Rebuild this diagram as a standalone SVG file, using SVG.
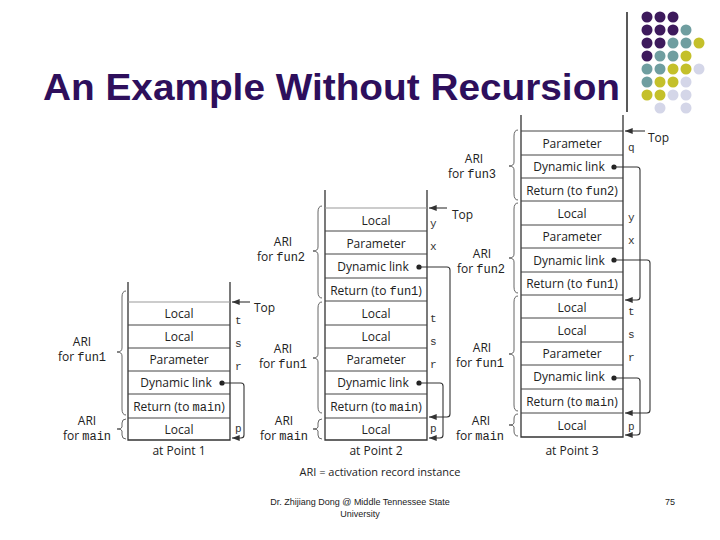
<svg xmlns="http://www.w3.org/2000/svg" width="720" height="540" viewBox="0 0 720 540">
<defs>
<marker id="ah" viewBox="0 0 10 10" refX="10" refY="5" markerWidth="7" markerHeight="7" orient="auto"><path d="M0,1 L10,5 L0,9 Z" fill="#333"/></marker>
<style>
text{font-family:"Open Sans","DejaVu Sans",sans-serif;fill:#222}
.c{font-size:12px;text-anchor:middle}
.m{font-family:"Liberation Mono",monospace}
.v{font-family:"Liberation Mono",monospace;font-size:11px;fill:#333}
.st{fill:none;stroke:#333;stroke-width:1.3}
.sep{stroke:#444;stroke-width:1}
.br{fill:none;stroke:#555;stroke-width:0.9}
.ln{fill:none;stroke:#333;stroke-width:1.1}
.p{fill:#3d1a5c}.t{fill:#6f9ea0}.y{fill:#c4c02a}.l{fill:#d4d6e8}
</style>
</defs>
<rect width="720" height="540" fill="#fff"/>
<g id="title"><text x="43" y="100" textLength="577" lengthAdjust="spacingAndGlyphs" style="font-family:'Liberation Sans',Arial,sans-serif;font-size:36px;font-weight:bold;fill:#2e0f5c">An Example Without Recursion</text>
<line x1="627" y1="12" x2="627" y2="112" stroke="#222" stroke-width="1.5"/></g>
<g id="dots">
<circle class="p" cx="647" cy="17" r="5.5"/><circle class="p" cx="660" cy="17" r="5.5"/><circle class="p" cx="673" cy="17" r="5.5"/>
<circle class="p" cx="647" cy="30" r="5.5"/><circle class="p" cx="660" cy="30" r="5.5"/><circle class="p" cx="673" cy="30" r="5.5"/><circle class="t" cx="686" cy="30" r="5.5"/>
<circle class="p" cx="647" cy="43" r="5.5"/><circle class="p" cx="660" cy="43" r="5.5"/><circle class="t" cx="673" cy="43" r="5.5"/><circle class="t" cx="686" cy="43" r="5.5"/><circle class="y" cx="699" cy="43" r="5.5"/>
<circle class="p" cx="647" cy="56" r="5.5"/><circle class="t" cx="660" cy="56" r="5.5"/><circle class="t" cx="673" cy="56" r="5.5"/><circle class="y" cx="686" cy="56" r="5.5"/>
<circle class="t" cx="647" cy="69" r="5.5"/><circle class="t" cx="660" cy="69" r="5.5"/><circle class="y" cx="673" cy="69" r="5.5"/><circle class="y" cx="686" cy="69" r="5.5"/><circle class="l" cx="699" cy="69" r="5.5"/>
<circle class="t" cx="647" cy="82" r="5.5"/><circle class="y" cx="660" cy="82" r="5.5"/><circle class="y" cx="673" cy="82" r="5.5"/><circle class="l" cx="686" cy="82" r="5.5"/>
<circle class="y" cx="647" cy="95" r="5.5"/><circle class="y" cx="660" cy="95" r="5.5"/><circle class="l" cx="673" cy="95" r="5.5"/><circle class="l" cx="686" cy="95" r="5.5"/>
<circle class="l" cx="660" cy="108" r="5.5"/><circle class="l" cx="686" cy="108" r="5.5"/>
</g>
<g id="stack1">
<path class="st" d="M128,282 V440 H230 V282"/>
<line x1="128" y1="302" x2="230" y2="302" stroke="#999"/>
<line class="sep" x1="128" y1="325" x2="230" y2="325"/><line class="sep" x1="128" y1="348" x2="230" y2="348" stroke="#999"/><line class="sep" x1="128" y1="371" x2="230" y2="371"/><line class="sep" x1="128" y1="394" x2="230" y2="394" stroke="#aaa"/><line class="sep" x1="128" y1="418" x2="230" y2="418"/>
<text class="c" x="179" y="318">Local</text><text class="c" x="179" y="341">Local</text><text class="c" x="179" y="364">Parameter</text><text class="c" x="176" y="387">Dynamic link</text><text class="c" x="179" y="411">Return (to <tspan class="m">main</tspan>)</text><text class="c" x="179" y="434">Local</text>
<text class="v" x="235" y="324">t</text><text class="v" x="235" y="347">s</text><text class="v" x="235" y="370">r</text><text class="v" x="235" y="432">p</text>
<path class="br" d="M126,291 Q122,291 122,297 L122,348 Q122,352 117,352 Q122,352 122,356 L122,409 Q122,415 126,415"/>
<path class="br" d="M126,419 Q122,419 122,423 L122,427 Q122,429 117,429 Q122,429 122,431 L122,435 Q122,439 126,439"/>
<text class="c" x="82" y="346">ARI</text><text class="c" x="82" y="361">for <tspan class="m">fun1</tspan></text>
<text class="c" x="87" y="425">ARI</text><text class="c" x="87" y="440">for <tspan class="m">main</tspan></text>
<text class="c" x="179" y="455">at Point 1</text>
</g>
<g id="stack2">
<path class="st" d="M325,190 V440 H427 V190"/>
<line x1="325" y1="208" x2="427" y2="208" stroke="#999"/>
<line class="sep" x1="325" y1="231" x2="427" y2="231" stroke="#aaa"/><line class="sep" x1="325" y1="254" x2="427" y2="254"/><line class="sep" x1="325" y1="278" x2="427" y2="278" stroke="#aaa"/><line class="sep" x1="325" y1="301" x2="427" y2="301"/><line class="sep" x1="325" y1="325" x2="427" y2="325" stroke="#aaa"/><line class="sep" x1="325" y1="348" x2="427" y2="348"/><line class="sep" x1="325" y1="371" x2="427" y2="371"/><line class="sep" x1="325" y1="394" x2="427" y2="394"/><line class="sep" x1="325" y1="418" x2="427" y2="418"/>
<text class="c" x="376" y="225">Local</text><text class="c" x="376" y="248">Parameter</text><text class="c" x="373" y="271">Dynamic link</text><text class="c" x="376" y="295">Return (to <tspan class="m">fun1</tspan>)</text>
<text class="c" x="376" y="318">Local</text><text class="c" x="376" y="341">Local</text><text class="c" x="376" y="364">Parameter</text><text class="c" x="373" y="387">Dynamic link</text><text class="c" x="376" y="411">Return (to <tspan class="m">main</tspan>)</text><text class="c" x="376" y="434">Local</text>
<text class="v" x="430" y="227">y</text><text class="v" x="430" y="250">x</text><text class="v" x="430" y="322">t</text><text class="v" x="430" y="345">s</text><text class="v" x="430" y="368">r</text><text class="v" x="430" y="432">p</text>
<path class="br" d="M322,206 Q318,206 318,212 L318,247 Q318,251 313,251 Q318,251 318,255 L318,292 Q318,298 322,298"/>
<path class="br" d="M322,302 Q318,302 318,308 L318,354 Q318,358 313,358 Q318,358 318,362 L318,407 Q318,413 322,413"/>
<path class="br" d="M322,419 Q318,419 318,423 L318,427 Q318,429 313,429 Q318,429 318,431 L318,435 Q318,439 322,439"/>
<text class="c" x="283" y="246">ARI</text><text class="c" x="281" y="261">for <tspan class="m">fun2</tspan></text>
<text class="c" x="283" y="353">ARI</text><text class="c" x="283" y="368">for <tspan class="m">fun1</tspan></text>
<text class="c" x="284" y="425">ARI</text><text class="c" x="284" y="440">for <tspan class="m">main</tspan></text>
<text class="c" x="376" y="455">at Point 2</text>
</g>
<g id="stack3">
<path class="st" d="M521,115 V437 H623 V115"/>
<line class="sep" x1="521" y1="131" x2="623" y2="131"/>
<line class="sep" x1="521" y1="155" x2="623" y2="155" stroke="#aaa"/><line class="sep" x1="521" y1="178" x2="623" y2="178"/><line class="sep" x1="521" y1="201" x2="623" y2="201"/><line class="sep" x1="521" y1="225" x2="623" y2="225"/><line class="sep" x1="521" y1="248" x2="623" y2="248"/><line class="sep" x1="521" y1="272" x2="623" y2="272"/><line class="sep" x1="521" y1="295" x2="623" y2="295" stroke="#aaa"/><line class="sep" x1="521" y1="318" x2="623" y2="318"/><line class="sep" x1="521" y1="342" x2="623" y2="342" stroke="#aaa"/><line class="sep" x1="521" y1="365" x2="623" y2="365"/><line class="sep" x1="521" y1="389" x2="623" y2="389" stroke="#aaa"/><line class="sep" x1="521" y1="413" x2="623" y2="413"/>
<text class="c" x="572" y="148">Parameter</text><text class="c" x="569" y="171">Dynamic link</text><text class="c" x="572" y="195">Return (to <tspan class="m">fun2</tspan>)</text>
<text class="c" x="572" y="218">Local</text><text class="c" x="572" y="241">Parameter</text><text class="c" x="569" y="265">Dynamic link</text><text class="c" x="572" y="288">Return (to <tspan class="m">fun1</tspan>)</text>
<text class="c" x="572" y="312">Local</text><text class="c" x="572" y="335">Local</text><text class="c" x="572" y="358">Parameter</text><text class="c" x="569" y="381">Dynamic link</text><text class="c" x="572" y="406">Return (to <tspan class="m">main</tspan>)</text><text class="c" x="572" y="430">Local</text>
<text class="v" x="628" y="151">q</text><text class="v" x="628" y="221">y</text><text class="v" x="628" y="244">x</text><text class="v" x="628" y="315">t</text><text class="v" x="628" y="338">s</text><text class="v" x="628" y="361">r</text><text class="v" x="628" y="430">p</text>
<path class="br" d="M518,130 Q514,130 514,136 L514,162 Q514,166 509,166 Q514,166 514,170 L514,194 Q514,200 518,200"/>
<path class="br" d="M518,203 Q514,203 514,209 L514,254 Q514,258 509,258 Q514,258 514,262 L514,287 Q514,293 518,293"/>
<path class="br" d="M518,296 Q514,296 514,302 L514,350 Q514,354 509,354 Q514,354 514,358 L514,405 Q514,411 518,411"/>
<path class="br" d="M518,414 Q514,414 514,419 L514,423 Q514,425 509,425 Q514,425 514,427 L514,431 Q514,436 518,436"/>
<text class="c" x="474" y="163">ARI</text><text class="c" x="472" y="178">for <tspan class="m">fun3</tspan></text>
<text class="c" x="482" y="258">ARI</text><text class="c" x="481" y="273">for <tspan class="m">fun2</tspan></text>
<text class="c" x="482" y="352">ARI</text><text class="c" x="480" y="367">for <tspan class="m">fun1</tspan></text>
<text class="c" x="481" y="425">ARI</text><text class="c" x="480" y="440">for <tspan class="m">main</tspan></text>
<text class="c" x="572" y="455">at Point 3</text>
</g>
<g id="connectors">
<line class="ln" x1="250" y1="302" x2="232" y2="302" marker-end="url(#ah)"/><text x="254" y="312" style="font-size:12px">Top</text>
<line class="ln" x1="447" y1="208" x2="429" y2="208" marker-end="url(#ah)"/><text x="452" y="219" style="font-size:12px">Top</text>
<line class="ln" x1="645" y1="131" x2="625" y2="131" marker-end="url(#ah)"/><text x="648" y="142" style="font-size:12px">Top</text>
<circle cx="222" cy="383" r="2.6" fill="#222"/><path class="ln" d="M222,383 H241 Q244,383 244,386 V435 Q244,438 241,438 H232" marker-end="url(#ah)"/>
<circle cx="419" cy="267" r="2.6" fill="#222"/><path class="ln" d="M419,267 H447 Q450,267 450,270 V414 Q450,417 447,417 H429" marker-end="url(#ah)"/>
<circle cx="419" cy="383" r="2.6" fill="#222"/><path class="ln" d="M419,383 H440 Q443,383 443,386 V435 Q443,438 440,438 H429" marker-end="url(#ah)"/>
<circle cx="614" cy="167" r="2.6" fill="#222"/><path class="ln" d="M614,167 H637 Q640,167 640,170 V297 Q640,300 637,300 H625" marker-end="url(#ah)"/>
<circle cx="614" cy="260" r="2.6" fill="#222"/><path class="ln" d="M614,260 H647 Q650,260 650,263 V410 Q650,413 647,413 H625" marker-end="url(#ah)"/>
<circle cx="614" cy="378" r="2.6" fill="#222"/><path class="ln" d="M614,378 H637 Q640,378 640,381 V432 Q640,435 637,435 H625" marker-end="url(#ah)"/>
</g>
<g id="footer">
<text x="380" y="476" style="font-size:11px;text-anchor:middle">ARI = activation record instance</text>
<text x="360" y="505" style="font-family:'Liberation Sans',Arial,sans-serif;font-size:9px;text-anchor:middle">Dr. Zhijiang Dong @ Middle Tennessee State</text>
<text x="360" y="517" style="font-family:'Liberation Sans',Arial,sans-serif;font-size:9px;text-anchor:middle">University</text>
<text x="670" y="505" style="font-family:'Liberation Sans',Arial,sans-serif;font-size:9px;text-anchor:middle">75</text>
</g>
</svg>
